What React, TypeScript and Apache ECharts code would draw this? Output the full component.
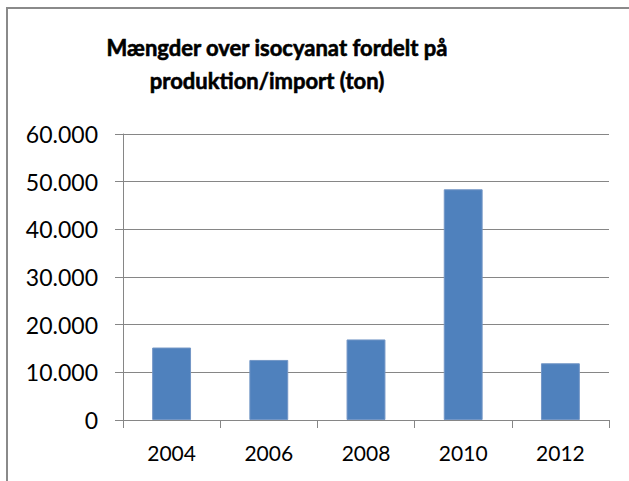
import React, { useEffect, useRef } from "react";
import * as echarts from "echarts";

const years = ["2004", "2006", "2008", "2010", "2012"];
const tons = [15200, 12600, 16900, 48400, 11900];
const titleLines = ["Mængder over isocyanat fordelt på", "produktion/import (ton)"];
const yMin = 0;
const yMax = 60000;
const yStep = 10000;

function fmt(v: number): string {
  return String(Math.round(v)).replace(/\B(?=(\d{3})+(?!\d))/g, ".");
}

export default function App() {
  const ref = useRef<HTMLDivElement>(null);
  useEffect(() => {
    if (!ref.current) return;
    const chart = echarts.init(ref.current, null, { renderer: "svg" });
    const axisColor = "#868686";
    const titleStyle = {
      fontFamily: "Lato",
      fontWeight: "bold",
      fontSize: 22,
      fill: "#000",
      stroke: "#000",
      lineWidth: 0.6,
      align: "center",
      verticalAlign: "middle",
    };
    chart.setOption({
      animation: false,
      backgroundColor: "#ffffff",
      textStyle: { fontFamily: "Lato" },
      graphic: [
        {
          type: "rect",
          shape: { x: 7, y: 8, width: 700, height: 600 },
          style: { fill: "none", stroke: "#8a8a8a", lineWidth: 2 },
          silent: true,
        },
        {
          type: "text",
          x: 277,
          y: 47,
          style: { ...titleStyle, text: titleLines[0] },
        },
        {
          type: "text",
          x: 267,
          y: 80,
          style: { ...titleStyle, text: titleLines[1] },
        },
      ],
      grid: { left: 123, right: 20, top: 134, bottom: 61, containLabel: false },
      xAxis: {
        type: "category",
        data: years,
        axisLine: { show: true, lineStyle: { color: axisColor, width: 1 } },
        axisTick: { show: true, length: 8, alignWithLabel: false, lineStyle: { color: axisColor } },
        axisLabel: { color: "#000", fontFamily: "Lato", fontSize: 21, margin: 22 },
        splitLine: { show: false },
      },
      yAxis: {
        type: "value",
        min: yMin,
        max: yMax,
        interval: yStep,
        axisLine: { show: true, lineStyle: { color: axisColor, width: 1 } },
        axisTick: { show: true, length: 8, lineStyle: { color: axisColor } },
        axisLabel: {
          color: "#000",
          fontFamily: "Lato",
          fontSize: 23,
          margin: 25,
          formatter: (v: number) => fmt(v),
        },
        splitLine: { show: true, lineStyle: { color: axisColor, width: 1 } },
      },
      series: [
        {
          type: "bar",
          data: tons,
          barWidth: "40%",
          itemStyle: { color: "#4F81BD", borderColor: "#7396c6", borderWidth: 1 },
        },
      ],
    });
    return () => chart.dispose();
  }, []);
  return (
    <div
      ref={ref}
      style={{ position: "fixed", left: 0, top: 0, width: 629, height: 481 }}
    />
  );
}
